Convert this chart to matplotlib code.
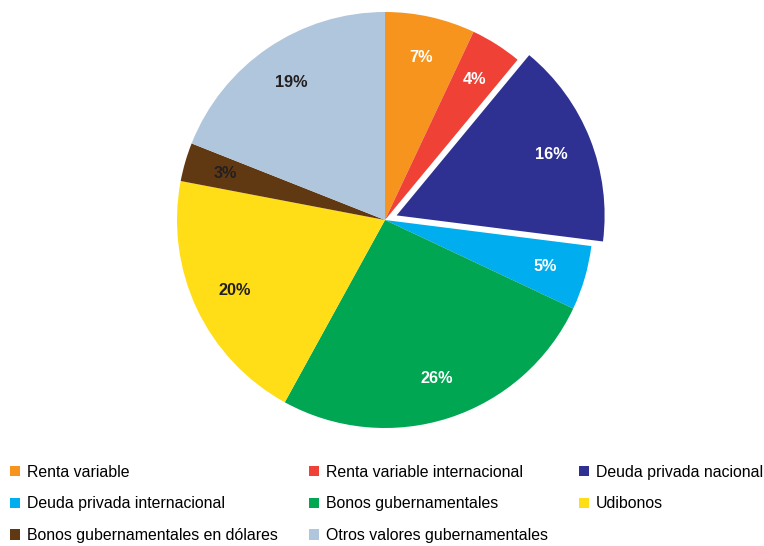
import matplotlib
matplotlib.use("Agg")
import matplotlib.pyplot as plt
from matplotlib.patches import Patch

categories = ["Renta variable", "Renta variable internacional", "Deuda privada nacional",
              "Deuda privada internacional", "Bonos gubernamentales", "Udibonos",
              "Bonos gubernamentales en dólares", "Otros valores gubernamentales"]
values = [7, 4, 16, 5, 26, 20, 3, 19]
colors = ["#F7941E", "#EF4136", "#2E3192", "#00AEEF", "#00A651", "#FFDD17", "#603913", "#B0C6DC"]
label_colors = ["white", "white", "white", "white", "white", "#231F20", "#231F20", "#231F20"]
explode = [0, 0, 0.06, 0, 0, 0, 0, 0]

plt.rcParams['font.family'] = ['Liberation Sans', 'DejaVu Sans']

W, H = 764, 546
fig = plt.figure(figsize=(W / 100, H / 100), dpi=100)
cx, cy, r = 385, 220, 208
ax = fig.add_axes([(cx - r) / W, (H - cy - r) / H, 2 * r / W, 2 * r / H])

wedges, texts, autotexts = ax.pie(values, colors=colors, explode=explode, startangle=90,
                                  counterclock=False, autopct=lambda p: f"{p:.0f}%",
                                  pctdistance=0.80, radius=1,
                                  textprops=dict(fontsize=11.7, fontweight="bold"))
for w in wedges:
    w.set_clip_on(False)
    w.set_linewidth(0)
for t, c in zip(autotexts, label_colors):
    t.set_color(c)
ax.set_xlim(-1, 1)
ax.set_ylim(-1, 1)
ax.set_aspect("equal")
ax.axis("off")

handles = [Patch(facecolor=c, edgecolor="none") for c in colors]
order = [0, 3, 6, 1, 4, 7, 2, 5]
leg = fig.legend([handles[i] for i in order], [categories[i] for i in order],
                 ncol=3, loc="upper left", bbox_to_anchor=(5 / W, 1 - 460 / H),
                 frameon=False, fontsize=11.4, handlelength=0.64, handleheight=0.64,
                 handletextpad=0.45, columnspacing=1.95, labelspacing=1.05,
                 borderaxespad=0, borderpad=0.3)

fig.savefig("out.png", dpi=100)
